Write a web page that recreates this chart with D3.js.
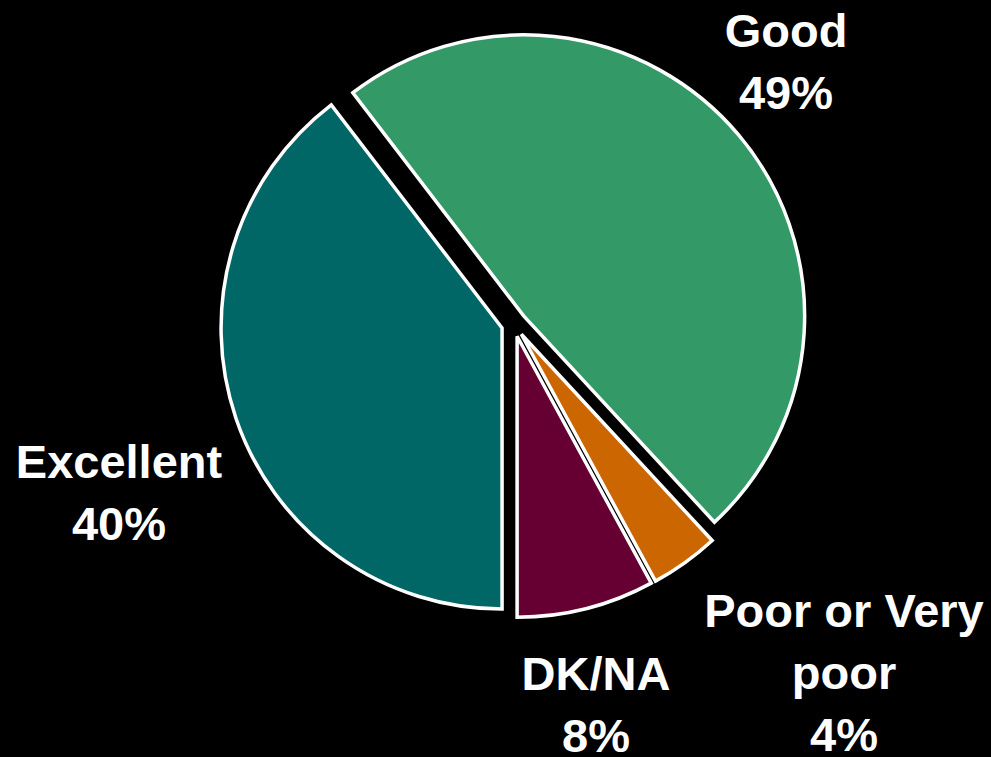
<!DOCTYPE html>
<html>
<head>
<meta charset="utf-8">
<script src="https://cdn.jsdelivr.net/npm/d3@7/dist/d3.min.js"></script>
<style>
  html, body { margin: 0; padding: 0; background: #000; }
  svg { display: block; }
</style>
</head>
<body>
<svg id="chart" width="991" height="757"></svg>
<script>
// Survey rating shares (percent), in drawing order clockwise from the bottom
const categories = ["Excellent", "Good", "Poor or Very poor", "DK/NA"];
const values = [40, 49, 4, 8];
const labelLines = [["Excellent"], ["Good"], ["Poor or Very", "poor"], ["DK/NA"]];
const colors = ["#006666", "#339966", "#CC6600", "#660033"];

// Label anchor (centre x, first baseline y) for each slice
const labelPos = [
  { x: 119, y: 478 },
  { x: 786, y: 47 },
  { x: 844, y: 627 },
  { x: 596, y: 690 }
];

const width = 991, height = 757;
const cx = 514, cy = 324;
const radius = 281;
const explode = 12.6;
const lineHeight = 62;

const svg = d3.select("#chart");
svg.append("rect").attr("width", width).attr("height", height).attr("fill", "#000");

const pie = d3.pie()
  .sort(null)
  .startAngle(Math.PI)
  .endAngle(3 * Math.PI)
  .value(d => d);

const arc = d3.arc().innerRadius(0).outerRadius(radius);

const arcs = pie(values);

const g = svg.append("g").attr("transform", `translate(${cx},${cy})`);

g.selectAll("path.slice")
  .data(arcs)
  .join("path")
  .attr("class", "slice")
  .attr("transform", d => {
    const mid = (d.startAngle + d.endAngle) / 2;
    return `translate(${Math.sin(mid) * explode},${-Math.cos(mid) * explode})`;
  })
  .attr("d", arc)
  .attr("fill", (d, i) => colors[i])
  .attr("stroke", "#fff")
  .attr("stroke-width", 3.5)
  .attr("stroke-linejoin", "miter");

// Category labels with percentage on the last line
const labels = svg.append("g")
  .attr("font-family", "'Liberation Sans', Arial, Helvetica, sans-serif")
  .attr("font-weight", "bold")
  .attr("font-size", 47)
  .attr("fill", "#fff")
  .attr("text-anchor", "middle");

categories.forEach((c, i) => {
  const lines = labelLines[i].concat([`${values[i]}%`]);
  const t = labels.append("text")
    .attr("x", labelPos[i].x)
    .attr("y", labelPos[i].y);
  lines.forEach((ln, j) => {
    t.append("tspan")
      .attr("x", labelPos[i].x)
      .attr("y", labelPos[i].y + j * lineHeight)
      .text(ln);
  });
});
</script>
</body>
</html>
